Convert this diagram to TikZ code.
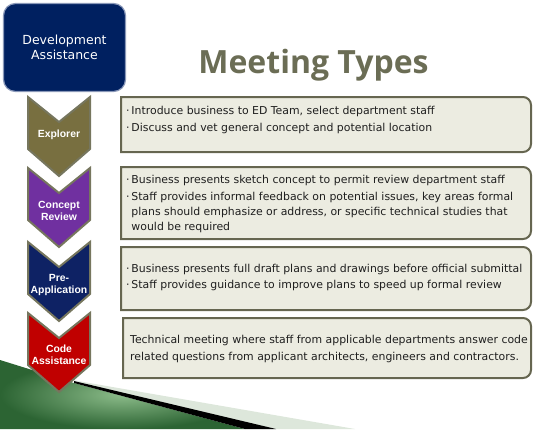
\documentclass[tikz,border=0pt]{standalone}
\usepackage{fontspec}
\setmainfont{DejaVu Sans}
\newfontfamily\titlefont{Open Sans}
\newfontfamily\labelfont{Liberation Sans}
\usepackage{xcolor}

\definecolor{devnavy}{HTML}{002060}
\definecolor{devedge}{HTML}{8A98B8}
\definecolor{titlegray}{HTML}{6B6D55}
\definecolor{explorercol}{HTML}{786F40}
\definecolor{conceptcol}{HTML}{7030A0}
\definecolor{precol}{HTML}{0E2264}
\definecolor{codecol}{HTML}{C00000}
\definecolor{chevedge}{HTML}{76765E}
\definecolor{boxfill}{HTML}{ECECE1}
\definecolor{boxedge}{HTML}{666650}
\definecolor{swooshdark}{HTML}{2C6433}
\definecolor{swooshlight}{HTML}{8CBC8A}
\definecolor{paleband}{HTML}{DDE7DB}

\begin{document}
\begin{tikzpicture}[x=1pt,y=-1pt,
    devbox/.style={draw=devedge, line width=1.2pt, fill=devnavy, rounded corners=12pt,
      minimum width=122pt, minimum height=88pt, text=white, align=center,
      font=\fontsize{12.5}{15}\selectfont},
    pagetitle/.style={text=titlegray, font=\titlefont\bfseries\fontsize{32}{36}\selectfont},
    chevron/.style={draw=chevedge, line width=2pt, line join=miter},
    chevlabel/.style={text=white, align=center, inner sep=0pt,
      font=\labelfont\bfseries\fontsize{10.4}{12}\selectfont},
    notebox/.style={draw=boxedge, line width=2pt, fill=boxfill},
    notetext/.style={anchor=north west, inner sep=0pt, align=left, text=black!88,
      font=\fontsize{10.9}{15}\selectfont}]
  \useasboundingbox (0,0) rectangle (533,429);

  % swoosh in the bottom left corner
  \shade[inner color=swooshlight, outer color=swooshdark] (0,360) -- (74,383) -- (245,429) -- (0,429) -- cycle;
  \fill[paleband] (72,380) -- (355,429) -- (262,429) -- cycle;
  \fill[black] (74,381) -- (276,429) -- (245,429) -- (74,383) -- cycle;

  % heading
  \node[devbox] (dev) at (64.5,47.5) {Development\\Assistance};
  \node[pagetitle, anchor=base] (title) at (313.5,73) {Meeting Types};

  % chevrons
  \foreach \t/\c in {97/explorercol, 168/conceptcol, 242/precol, 313/codecol}
    \draw[chevron, fill=\c] (28,\t) -- ++(31,25) -- ++(31,-25) -- ++(0,52) -- ++(-31,27) -- ++(-31,-27) -- cycle;
  \node[chevlabel] (explorer) at (59,135) {Explorer};
  \node[chevlabel] (concept) at (59,211) {Concept\\Review};
  \node[chevlabel] (preapp) at (59,285) {Pre-\\Application};
  \node[chevlabel] (code) at (59,355) {Code\\Assistance};

  % note boxes, rounded on the right
  \foreach \t/\b/\l in {97/152/121, 167/239/121, 247/310/121, 318/378/123}
    \draw[notebox] (\l,\t) -- (523,\t) arc[start angle=-90, end angle=0, radius=8]
      -- (531,\b-8) arc[start angle=0, end angle=90, radius=8] -- (\l,\b) -- cycle;

  \node[notetext] (explorernote) at (126,106) {%
    ·\,Introduce business to ED Team, select department staff\\[2pt]
    ·\,Discuss and vet general concept and potential location};
  \node[notetext] (conceptnote) at (126,175) {%
    ·\,Business presents sketch concept to permit review department staff\\[2pt]
    ·\,Staff provides informal feedback on potential issues, key areas formal\\
    \phantom{·}\,plans should emphasize or address, or specific technical studies that\\
    \phantom{·}\,would be required};
  \node[notetext] (preappnote) at (126,264) {%
    ·\,Business presents full draft plans and drawings before official submittal\\[1pt]
    ·\,Staff provides guidance to improve plans to speed up formal review};
  \node[notetext] (codenote) at (130,335) {%
    Technical meeting where staff from applicable departments answer code\\[2pt]
    related questions from applicant architects, engineers and contractors.};
\end{tikzpicture}
\end{document}
